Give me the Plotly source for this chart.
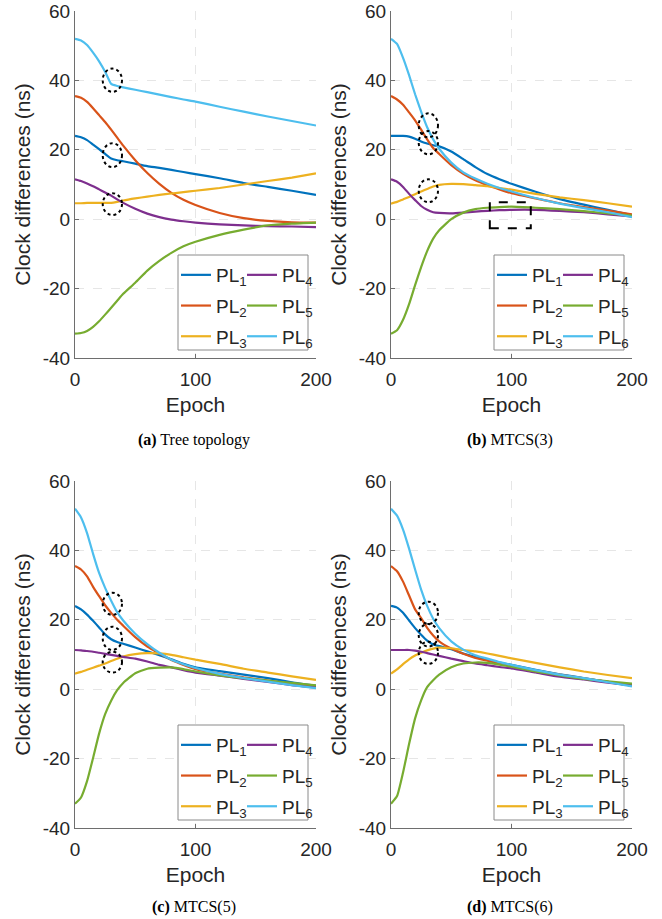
import plotly.graph_objects as go

# ---------------- data ----------------
epochs = [0, 5, 10, 15, 20, 25, 30, 35, 40, 50, 60, 70, 80, 90, 100, 120, 140, 160, 180, 200]
series_names = ["PL<sub>1</sub>", "PL<sub>2</sub>", "PL<sub>3</sub>",
                "PL<sub>4</sub>", "PL<sub>5</sub>", "PL<sub>6</sub>"]
panel_captions = ["<b>(a)</b> Tree topology", "<b>(b)</b> MTCS(3)",
                  "<b>(c)</b> MTCS(5)", "<b>(d)</b> MTCS(6)"]

# (a) Tree topology
tree_pl1 = [24, 23.6, 22.8, 21.5, 20.2, 18.8, 17.5, 17, 16.7, 16, 15.3, 14.8, 14.2, 13.6, 13, 11.8, 10.4, 9.3, 8.2, 7]
tree_pl2 = [35.5, 35, 33.8, 32, 30, 28, 25.8, 23.5, 21.2, 17, 13.3, 10.2, 7.6, 5.6, 4.1, 1.8, 0.3, -0.5, -0.9, -1]
tree_pl3 = [4.6, 4.6, 4.7, 4.7, 4.7, 4.7, 4.7, 5.0, 5.4, 6.0, 6.5, 7.0, 7.4, 7.8, 8.2, 9.0, 10.0, 11.0, 12.0, 13.2]
tree_pl4 = [11.5, 11, 10.3, 9.5, 8.6, 7.7, 6.8, 5.7, 4.7, 3.0, 1.6, 0.6, -0.1, -0.6, -1.0, -1.5, -1.8, -2.0, -2.1, -2.3]
tree_pl5 = [-33, -32.8, -32.2, -31, -29.4, -27.5, -25.5, -23.5, -21.5, -18.3, -14.8, -12, -9.7, -7.8, -6.5, -4.5, -3, -1.8, -1.3, -1]
tree_pl6 = [52, 51.5, 50.2, 48, 45.5, 42.5, 39, 38.4, 38, 37.3, 36.6, 35.9, 35.2, 34.5, 33.9, 32.4, 31, 29.6, 28.3, 27]

# (b) MTCS(3)
m3_pl1 = [24, 24, 24, 23.8, 23.2, 22.4, 21.8, 21.3, 21, 19.5, 17.3, 15, 13, 11.5, 10.2, 7.9, 5.8, 4.2, 2.7, 1.2]
m3_pl2 = [35.5, 34.5, 33, 30.8, 28.5, 25.8, 23, 20.5, 18.8, 15.6, 13.1, 11.2, 9.8, 8.6, 7.5, 6.0, 4.6, 3.5, 2.5, 1.4]
m3_pl3 = [4.5, 5, 5.7, 6.4, 7.2, 8.0, 8.7, 9.4, 9.9, 10.2, 10.1, 9.8, 9.5, 9.0, 8.5, 7.3, 6.3, 5.5, 4.6, 3.6]
m3_pl4 = [11.5, 10.8, 9.3, 7.3, 5.5, 3.8, 2.7, 2.0, 1.8, 1.7, 1.9, 2.2, 2.4, 2.6, 2.7, 2.7, 2.4, 2.0, 1.4, 0.8]
m3_pl5 = [-33, -32, -29, -24.5, -19, -13.8, -9.2, -5.6, -3.2, 0, 1.9, 2.9, 3.3, 3.5, 3.6, 3.3, 2.9, 2.3, 1.7, 1.0]
m3_pl6 = [52, 50.5, 46.5, 41.5, 36, 31, 26.5, 23, 20.3, 16.3, 13.5, 11.7, 10.2, 9.0, 8.0, 6.1, 4.5, 3.2, 2.0, 0.6]

# (c) MTCS(5)
m5_pl1 = [24, 23, 21.5, 19.7, 17.8, 15.8, 14.4, 13.6, 13.1, 12, 10.9, 9.8, 8.6, 7.3, 6.3, 5.2, 4.2, 3.2, 2.0, 1.0]
m5_pl2 = [35.5, 34.5, 32.5, 29.5, 26.8, 24.2, 22, 20, 18.3, 15, 12.3, 10.3, 8.4, 7, 5.8, 4.5, 3.4, 2.5, 1.5, 0.6]
m5_pl3 = [4.5, 5.0, 5.6, 6.2, 6.8, 7.4, 8.1, 8.8, 9.4, 10.1, 10.4, 10.3, 9.9, 9.2, 8.5, 7.3, 5.9, 4.8, 3.7, 2.7]
m5_pl4 = [11.3, 11.2, 11, 10.8, 10.5, 10.2, 9.9, 9.6, 9.3, 8.8, 8, 7, 6.3, 5.5, 4.8, 3.9, 3.0, 2.1, 1.2, 0.5]
m5_pl5 = [-33, -31.2, -26.5, -19.8, -12.8, -7.2, -3.3, -0.3, 1.8, 4.6, 5.9, 6.2, 6.3, 5.8, 5.1, 4.0, 3.2, 2.5, 1.8, 1.1]
m5_pl6 = [52, 49.5, 45, 39, 33.5, 29.2, 25.5, 22.2, 19.8, 16, 13, 10.5, 8.5, 7.2, 6.1, 4.4, 3.2, 2.2, 1.2, 0.3]

# (d) MTCS(6)
m6_pl1 = [24, 23.5, 22, 19.8, 17.6, 15.7, 14, 12.9, 12.4, 11.5, 10.3, 9.3, 8.5, 7.7, 7.0, 5.6, 4.3, 3.2, 2.1, 1.0]
m6_pl2 = [35.5, 34, 31, 27, 23, 20.5, 17.7, 15.5, 13.8, 11.7, 10.2, 9.0, 8.2, 7.4, 6.8, 5.4, 4.2, 3.1, 2.1, 1.0]
m6_pl3 = [4.5, 5.7, 7.2, 8.6, 9.7, 10.5, 11.2, 11.7, 12, 11.8, 11.3, 10.9, 10.3, 9.6, 8.9, 7.6, 6.3, 5.1, 4.1, 3.2]
m6_pl4 = [11.3, 11.3, 11.3, 11.3, 11.1, 10.8, 10.4, 10, 9.6, 8.8, 8.1, 7.4, 6.9, 6.4, 6.0, 4.8, 3.6, 2.8, 1.9, 1.1]
m6_pl5 = [-33, -30.8, -24, -15.8, -8.4, -3.2, 0.6, 2.6, 4.2, 6.3, 7.4, 7.7, 7.6, 7.1, 6.5, 5.1, 4.0, 3.0, 2.3, 1.6]
m6_pl6 = [52, 50, 46, 40.5, 34.5, 28.7, 24, 20.3, 17.6, 13.8, 11.4, 9.8, 8.8, 7.8, 7.0, 5.5, 4.2, 3.2, 2.0, 0.8]

panels = [
    [tree_pl1, tree_pl2, tree_pl3, tree_pl4, tree_pl5, tree_pl6],
    [m3_pl1, m3_pl2, m3_pl3, m3_pl4, m3_pl5, m3_pl6],
    [m5_pl1, m5_pl2, m5_pl3, m5_pl4, m5_pl5, m5_pl6],
    [m6_pl1, m6_pl2, m6_pl3, m6_pl4, m6_pl5, m6_pl6],
]

# highlighted regions (data coordinates): x0, x1, y0, y1
ellipses = [
    [(23, 39, 36.7, 43.4), (23, 39, 15.0, 21.9), (23, 39, 1.2, 7.5)],
    [(23, 39, 23.6, 30.5), (23, 39, 18.7, 25.4), (23, 39, 4.9, 11.5)],
    [(23, 39, 21.4, 27.8), (23, 39, 11.3, 18.0), (23, 39, 4.8, 10.8)],
    [(23, 39, 18.8, 25.2), (23, 39, 12.3, 18.8), (23, 39, 7.3, 13.7)],
]
zoom_boxes = [None, (82, 116, -2.6, 4.9), None, None]

y_ticks = [-40, -20, 0, 20, 40, 60]
y_ticktext = ["-40", "-20", "0", "20", "40", "60"]
x_ticks = [0, 100, 200]

# ---------------- styling ----------------
W, H = 662, 919
colors = ["#0072BD", "#D95319", "#EDB120", "#7E2F8E", "#77AC30", "#4DBEEE"]
sans = "Liberation Sans, Arial, sans-serif"
serif = "Liberation Serif, Times New Roman, serif"
axis_col = "#6e6e6e"
text_col = "#262626"
grid_col = "#e6e6e6"

# panel boxes in pixels: left, right, top, bottom
boxes = [(75, 316, 11, 358), (391, 632, 11, 358),
         (75, 316, 481, 828), (391, 632, 481, 828)]


def px(x):
    return x / W


def py(y):
    return 1 - y / H


fig = go.Figure()
layout = dict(
    width=W, height=H,
    margin=dict(l=0, r=0, t=0, b=0),
    paper_bgcolor="white", plot_bgcolor="white",
    font=dict(family=sans, color=text_col),
    shapes=[], annotations=[],
)

for i, (series, box) in enumerate(zip(panels, boxes)):
    n = i + 1
    xa = "xaxis" if n == 1 else f"xaxis{n}"
    ya = "yaxis" if n == 1 else f"yaxis{n}"
    xr = "x" if n == 1 else f"x{n}"
    yr = "y" if n == 1 else f"y{n}"
    leg_a = "legend" if n == 1 else f"legend{2 * n - 1}"
    leg_b = f"legend{2 * n}"
    l, r, t, b = box

    for k, vals in enumerate(series):
        fig.add_trace(go.Scatter(
            x=epochs, y=vals, mode="lines", name=series_names[k],
            line=dict(color=colors[k], width=2.2, shape="spline", smoothing=0.5),
            xaxis=xr, yaxis=yr,
            legend=leg_a if k < 3 else leg_b,
            legendgroup=f"p{n}s{k}",
            showlegend=True,
        ))

    common = dict(
        showline=True, linecolor=axis_col, linewidth=1,
        ticks="inside", ticklen=4, tickcolor=axis_col,
        showgrid=True, gridcolor=grid_col, griddash="dash", gridwidth=1,
        zeroline=False, tickfont=dict(size=19, color=text_col),
        automargin=False, mirror=False,
    )
    layout[xa] = dict(
        common, domain=[px(l), px(r)], anchor=yr, range=[0, 200],
        tickvals=x_ticks, ticklabelstandoff=4,
        title=dict(text="Epoch", font=dict(size=21, color=text_col), standoff=8),
    )
    layout[ya] = dict(
        common, domain=[py(b), py(t)], anchor=xr, range=[-40, 60],
        tickvals=y_ticks, ticktext=y_ticktext,
        title=dict(text="Clock differences (ns)", font=dict(size=21, color=text_col), standoff=6),
    )

    # legend: two columns, framed together
    lx0, ly0 = l + 103, b - 103
    lx1, ly1 = r - 8, b - 8
    layout["shapes"].append(dict(
        type="rect", xref="paper", yref="paper",
        x0=px(lx0), x1=px(lx1), y0=py(ly1), y1=py(ly0),
        line=dict(color="#8a8a8a", width=1), fillcolor="white", layer="above",
    ))
    for key, xoff in ((leg_a, lx0 - 2), (leg_b, lx0 + 64)):
        layout[key] = dict(
            x=px(xoff), y=py(ly0 + 1), xanchor="left", yanchor="top",
            orientation="v", bgcolor="rgba(0,0,0,0)", borderwidth=0,
            font=dict(size=19, family=sans, color=text_col),
            itemwidth=30, tracegroupgap=3,
        )

    for (x0, x1, y0, y1) in ellipses[i]:
        layout["shapes"].append(dict(
            type="circle", xref=xr, yref=yr, x0=x0, x1=x1, y0=y0, y1=y1,
            line=dict(color="black", width=2, dash="dot"), layer="above",
        ))
    if zoom_boxes[i] is not None:
        x0, x1, y0, y1 = zoom_boxes[i]
        layout["shapes"].append(dict(
            type="rect", xref=xr, yref=yr, x0=x0, x1=x1, y0=y0, y1=y1,
            line=dict(color="black", width=2, dash="dash"), layer="above",
        ))

    cap_y = 440 if i < 2 else 907
    layout["annotations"].append(dict(
        text=panel_captions[i], xref="paper", yref="paper",
        x=px((l + r) / 2 - 2), y=py(cap_y), xanchor="center", yanchor="middle",
        showarrow=False, font=dict(family=serif, size=16, color="black"),
    ))

fig.update_layout(**layout)
fig.write_html("out.html")
